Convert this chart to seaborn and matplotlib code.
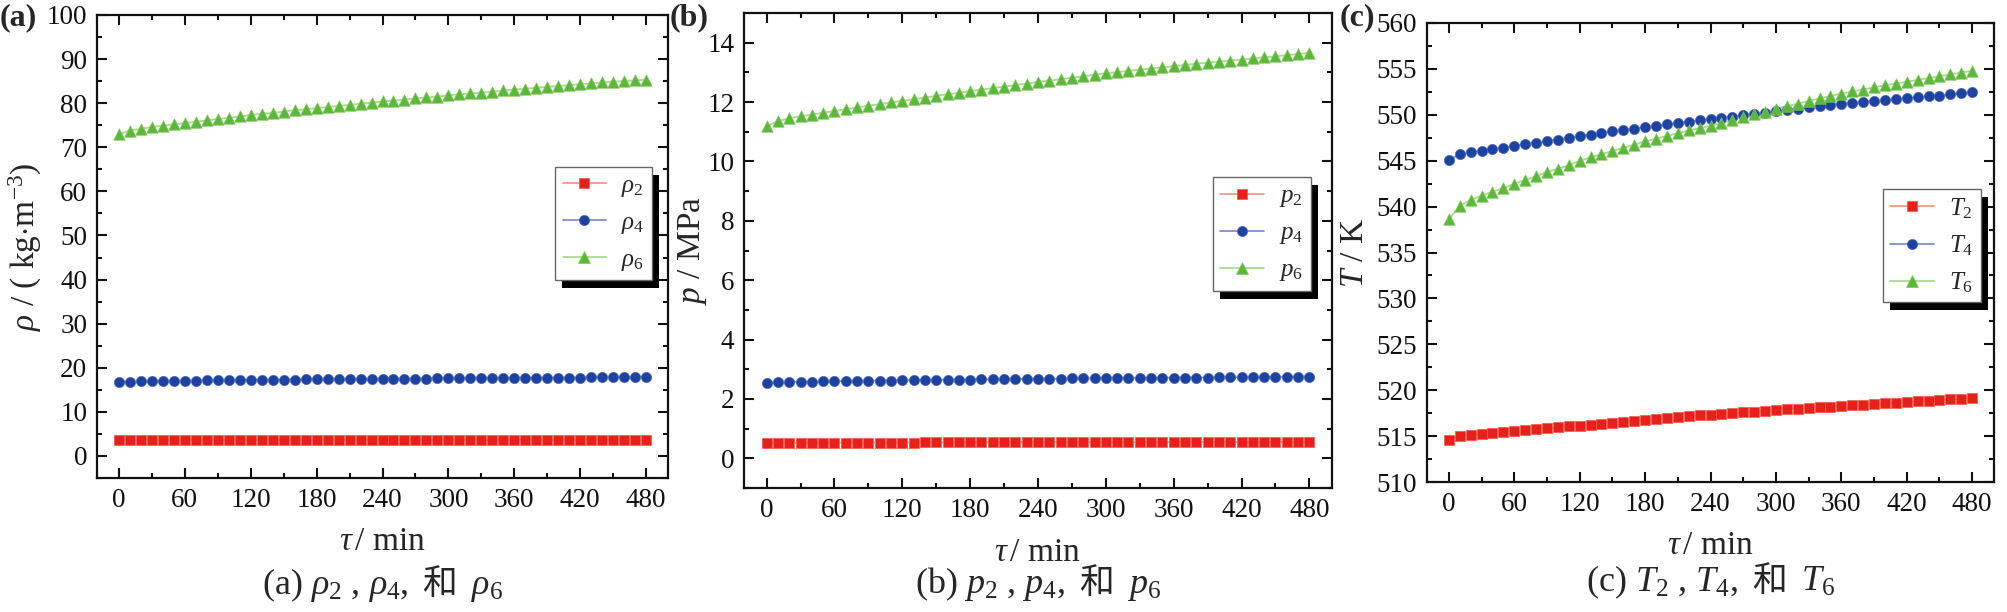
import matplotlib
matplotlib.use('Agg')
import matplotlib.pyplot as plt
from matplotlib.lines import Line2D
from matplotlib.patches import Rectangle
from matplotlib.transforms import IdentityTransform
from matplotlib.ticker import MultipleLocator
from matplotlib.offsetbox import TextArea, HPacker, AnnotationBbox
import seaborn as sns

# time axis, min
tau = [0, 10, 20, 30, 40, 50, 60, 70, 80, 90,
       100, 110, 120, 130, 140, 150, 160, 170, 180, 190,
       200, 210, 220, 230, 240, 250, 260, 270, 280, 290,
       300, 310, 320, 330, 340, 350, 360, 370, 380, 390,
       400, 410, 420, 430, 440, 450, 460, 470, 480]

# density, kg/m3
rho2 = [3.55, 3.56, 3.56, 3.57, 3.57, 3.57, 3.58, 3.58, 3.58, 3.59,
        3.59, 3.59, 3.60, 3.60, 3.60, 3.61, 3.61, 3.61, 3.61, 3.62,
        3.62, 3.62, 3.62, 3.63, 3.63, 3.63, 3.63, 3.64, 3.64, 3.64,
        3.64, 3.64, 3.65, 3.65, 3.65, 3.65, 3.65, 3.66, 3.66, 3.66,
        3.66, 3.66, 3.67, 3.67, 3.67, 3.67, 3.67, 3.68, 3.68]
rho4 = [16.80, 16.88, 16.93, 16.97, 17.01, 17.04, 17.07, 17.10, 17.13, 17.15,
        17.18, 17.20, 17.23, 17.25, 17.27, 17.29, 17.32, 17.34, 17.36, 17.38,
        17.40, 17.42, 17.44, 17.46, 17.48, 17.50, 17.52, 17.54, 17.56, 17.57,
        17.59, 17.61, 17.63, 17.64, 17.66, 17.68, 17.69, 17.71, 17.73, 17.74,
        17.76, 17.77, 17.79, 17.80, 17.82, 17.83, 17.85, 17.86, 17.88]
rho6 = [73.0, 73.8, 74.2, 74.6, 74.9, 75.2, 75.5, 75.8, 76.1, 76.4,
        76.7, 77.0, 77.3, 77.6, 77.8, 78.1, 78.4, 78.6, 78.9, 79.1,
        79.4, 79.6, 79.9, 80.1, 80.4, 80.6, 80.8, 81.1, 81.3, 81.5,
        81.8, 82.0, 82.2, 82.4, 82.6, 82.9, 83.1, 83.3, 83.5, 83.7,
        83.9, 84.1, 84.3, 84.5, 84.7, 84.9, 85.0, 85.2, 85.3]

# pressure, MPa
p2 = [0.520, 0.522, 0.523, 0.524, 0.525, 0.526, 0.527, 0.528, 0.529, 0.529,
      0.530, 0.531, 0.531, 0.532, 0.533, 0.533, 0.534, 0.535, 0.535, 0.536,
      0.536, 0.537, 0.537, 0.538, 0.538, 0.539, 0.539, 0.540, 0.540, 0.541,
      0.541, 0.542, 0.542, 0.543, 0.543, 0.544, 0.544, 0.544, 0.545, 0.545,
      0.546, 0.546, 0.547, 0.547, 0.547, 0.548, 0.548, 0.549, 0.549]
p4 = [2.54, 2.56, 2.57, 2.58, 2.58, 2.59, 2.60, 2.60, 2.61, 2.61,
      2.62, 2.62, 2.63, 2.63, 2.64, 2.64, 2.65, 2.65, 2.65, 2.66,
      2.66, 2.67, 2.67, 2.67, 2.68, 2.68, 2.68, 2.69, 2.69, 2.69,
      2.70, 2.70, 2.70, 2.71, 2.71, 2.71, 2.72, 2.72, 2.72, 2.72,
      2.73, 2.73, 2.73, 2.74, 2.74, 2.74, 2.74, 2.75, 2.75]
p6 = [11.18, 11.36, 11.45, 11.52, 11.58, 11.64, 11.70, 11.76, 11.82, 11.88,
      11.93, 11.99, 12.04, 12.10, 12.15, 12.21, 12.26, 12.31, 12.37, 12.42,
      12.47, 12.52, 12.57, 12.62, 12.68, 12.72, 12.77, 12.82, 12.87, 12.92,
      12.97, 13.01, 13.05, 13.09, 13.13, 13.17, 13.21, 13.25, 13.29, 13.33,
      13.36, 13.40, 13.43, 13.47, 13.51, 13.54, 13.58, 13.62, 13.66]

# temperature, K
T2 = [514.6, 515.0, 515.15, 515.25, 515.35, 515.45, 515.55, 515.65, 515.75, 515.85,
      515.95, 516.05, 516.15, 516.25, 516.35, 516.45, 516.55, 516.65, 516.75, 516.85,
      516.95, 517.05, 517.15, 517.25, 517.35, 517.43, 517.51, 517.59, 517.67, 517.75,
      517.83, 517.91, 517.99, 518.07, 518.15, 518.22, 518.29, 518.36, 518.43, 518.50,
      518.57, 518.64, 518.71, 518.78, 518.85, 518.92, 518.99, 519.06, 519.13]
T4 = [545.1, 545.7, 545.9, 546.1, 546.25, 546.4, 546.6, 546.8, 546.95, 547.15,
      547.3, 547.5, 547.7, 547.85, 548.0, 548.2, 548.35, 548.5, 548.65, 548.8,
      548.95, 549.1, 549.25, 549.4, 549.5, 549.65, 549.8, 549.95, 550.1, 550.25,
      550.4, 550.5, 550.65, 550.8, 550.95, 551.05, 551.2, 551.3, 551.4, 551.5,
      551.6, 551.7, 551.8, 551.9, 552.0, 552.1, 552.25, 552.35, 552.5]
T6 = [538.6, 540.1, 540.7, 541.2, 541.6, 542.0, 542.5, 542.9, 543.3, 543.8,
      544.1, 544.5, 545.0, 545.35, 545.7, 546.05, 546.4, 546.75, 547.1, 547.4,
      547.7, 548.0, 548.3, 548.55, 548.8, 549.1, 549.4, 549.75, 550.05, 550.35,
      550.65, 550.95, 551.2, 551.5, 551.8, 552.05, 552.3, 552.55, 552.75, 553.0,
      553.2, 553.4, 553.6, 553.8, 554.0, 554.2, 554.4, 554.6, 554.8]

sns.set_theme(style='ticks')
plt.rcParams['font.family'] = ['Liberation Serif', 'Noto Sans CJK SC']
plt.rcParams['mathtext.fontset'] = 'custom'
plt.rcParams['mathtext.rm'] = 'Liberation Serif'
plt.rcParams['mathtext.it'] = 'Liberation Serif:italic'
plt.rcParams['mathtext.bf'] = 'Liberation Serif:bold'

marker_c = ['#e8201c', '#1d43a0', '#5cb83a']
edge_c = ['#ee5a48', '#4a64b4', '#82c862']
line_c = ['#f49a86', '#7f8fd2', '#a6dc88']
markers = ['s', 'o', '^']
msize = [42, 54, 68]

fig = plt.figure(figsize=(20.08, 6.12), dpi=100)
W, H = 2008, 612

def px_axes(l, t, r, b):
    return fig.add_axes([l / W, 1 - b / H, (r - l) / W, (b - t) / H])

panels = [
    dict(box=(97, 15, 668, 478), series=[rho2, rho4, rho6], sym=r'\rho',
         ylim=(-5, 100), major=10, minor=5, ylabel=r'$\rho$ / ( kg$\cdot$m$^{-3}$)',
         ylab_x=-0.092, leg=(0.972, 0.672), tag='(a)', tag_x=0,
         cap=(r'(a) $\rho_2$ , $\rho_4$,', r'$\rho_6$'), cap_y=585),
    dict(box=(744, 13, 1332, 488), series=[p2, p4, p6], sym='p',
         ylim=(-1, 15), major=2, minor=1, ylabel=r'$p$ / MPa',
         ylab_x=-0.060, leg=(0.964, 0.654), tag='(b)', tag_x=670,
         cap=(r'(b) $p_2$ , $p_4$,', r'$p_6$'), cap_y=584),
    dict(box=(1427, 23, 1994, 482), series=[T2, T4, T6], sym='T',
         ylim=(510, 560), major=5, minor=2.5, ylabel=r'$T$ / K',
         ylab_x=-0.100, leg=(0.977, 0.639), tag='(c)', tag_x=1340,
         cap=(r'(c) $T_2$ , $T_4$,', r'$T_6$'), cap_y=582),
]

legends = []
for pan in panels:
    ax = px_axes(*pan['box'])
    for i, vals in enumerate(pan['series']):
        sns.lineplot(x=tau, y=vals, color=line_c[i], lw=1.3, ax=ax, zorder=2)
        sns.scatterplot(x=tau, y=vals, marker=markers[i], s=msize[i],
                        color=marker_c[i], edgecolor=edge_c[i], linewidth=0.5,
                        ax=ax, zorder=3)
    ax.set_xlim(-20, 500)
    ax.set_ylim(*pan['ylim'])
    ax.xaxis.set_major_locator(MultipleLocator(60))
    ax.xaxis.set_minor_locator(MultipleLocator(30))
    ax.yaxis.set_major_locator(MultipleLocator(pan['major']))
    ax.yaxis.set_minor_locator(MultipleLocator(pan['minor']))
    ax.tick_params(which='both', direction='in', top=True, right=True,
                   width=1.5, labelsize=19.5, pad=7, colors='#111111')
    ax.tick_params(which='major', length=7)
    ax.tick_params(which='minor', length=3.5)
    for sp in ax.spines.values():
        sp.set_linewidth(1.6)
        sp.set_color('#111111')
    ax.set_xlabel(r'$\tau\,$/ min', fontsize=24)
    ax.xaxis.set_label_coords(0.5, -0.105)
    ax.set_ylabel(pan['ylabel'], fontsize=24)
    ax.yaxis.set_label_coords(pan['ylab_x'], 0.5)

    handles = [Line2D([], [], color=line_c[i], lw=1.3, marker=markers[i],
                      markersize=[6.5, 7.3, 8.2][i], markerfacecolor=marker_c[i],
                      markeredgecolor=edge_c[i], markeredgewidth=0.5)
               for i in range(3)]
    labels = [r'$%s_%d$' % (pan['sym'], k) for k in (2, 4, 6)]
    leg = ax.legend(handles, labels, loc='upper right',
                    bbox_to_anchor=pan['leg'], fontsize=18, frameon=True,
                    fancybox=False, framealpha=1, edgecolor='#666666',
                    handlelength=1.75, handletextpad=0.6, labelspacing=0.5,
                    borderpad=0.3, borderaxespad=0, numpoints=1)
    leg.get_frame().set_linewidth(1.0)
    legends.append((ax, leg))

    fig.text(pan['tag_x'] / W, 1 - 3 / H, pan['tag'], fontsize=23,
             fontweight='bold', ha='left', va='top')

    cx = (pan['box'][0] + pan['box'][2]) / 2 / W
    cy = 1 - pan['cap_y'] / H
    tp = dict(fontsize=26, family='Liberation Serif')
    box = HPacker(children=[TextArea(pan['cap'][0], textprops=tp),
                            TextArea('和', textprops=dict(fontsize=25, family='Noto Sans CJK SC')),
                            TextArea(pan['cap'][1], textprops=tp)],
                  align='baseline', pad=0, sep=10)
    ab = AnnotationBbox(box, (cx, cy), xycoords='figure fraction',
                        frameon=False, box_alignment=(0.5, 0.5))
    fig.add_artist(ab)

# black drop shadow behind each legend
fig.canvas.draw()
for ax, leg in legends:
    bb = leg.get_frame().get_window_extent()
    sh = Rectangle((bb.x0 + 7, bb.y0 - 8), bb.width, bb.height,
                   transform=IdentityTransform(), facecolor='black',
                   edgecolor='none', zorder=4.9, clip_on=False)
    ax.add_patch(sh)

fig.savefig('out.png', dpi=100)
